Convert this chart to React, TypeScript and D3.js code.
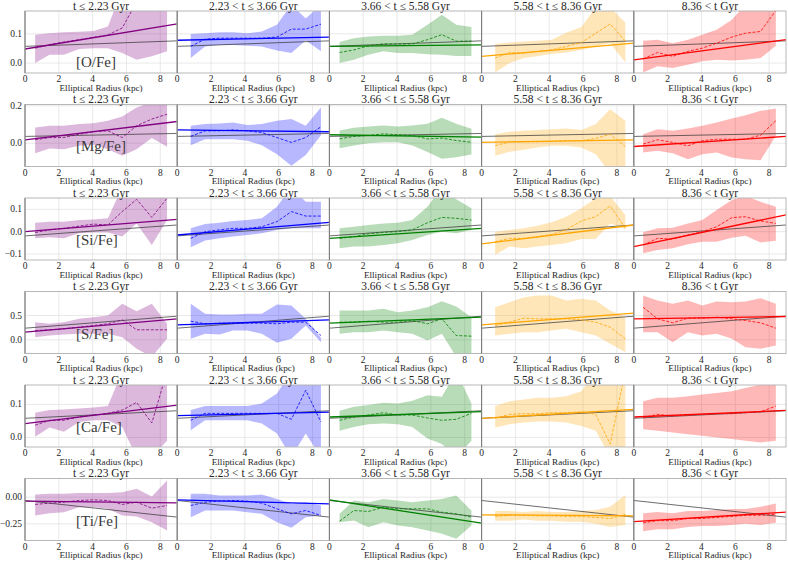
import React from "react";
import { scaleLinear, area, line } from "d3";

// age bins (columns) and elements (rows)
const ageBins = [
  "t ≤ 2.23 Gyr",
  "2.23 < t ≤ 3.66 Gyr",
  "3.66 < t ≤ 5.58 Gyr",
  "5.58 < t ≤ 8.36 Gyr",
  "8.36 < t Gyr",
];
const binColors = ["purple", "blue", "green", "orange", "red"];
const elements = ["[O/Fe]", "[Mg/Fe]", "[Si/Fe]", "[S/Fe]", "[Ca/Fe]", "[Ti/Fe]"];

// radial bin centres per age bin (kpc)
const radii = [
  [0.6, 1.45, 2.3, 3.2, 4.05, 4.9, 5.75, 6.6, 7.5, 8.4],
  [0.8, 1.65, 2.5, 3.3, 4.15, 5.0, 5.9, 6.75, 7.6, 8.5],
  [0.6, 1.45, 2.3, 3.2, 4.05, 4.9, 5.8, 6.65, 7.5, 8.4],
  [0.8, 1.65, 2.5, 3.3, 4.15, 5.0, 5.9, 6.75, 7.6, 8.5],
  [0.55, 1.4, 2.3, 3.2, 4.05, 4.9, 5.8, 6.6, 7.5, 8.4],
];

const xTicks = [0, 2, 4, 6, 8];
const yDomains = [
  [-0.034, 0.178],
  [-0.125, 0.207],
  [-0.127, 0.151],
  [-0.282, 0.994],
  [-0.029, 0.159],
  [-0.406, 0.175],
];
const yTicks = [
  [0, 0.1],
  [0, 0.2],
  [-0.1, 0, 0.1],
  [0, 0.5],
  [0, 0.1],
  [-0.25, 0],
];
const yTickLabels = [
  ["0.0", "0.1"],
  ["0.0", "0.2"],
  ["−0.1", "0.0", "0.1"],
  ["0.0", "0.5"],
  ["0.0", "0.1"],
  ["−0.25", "0.00"],
];

// ---- [O/Fe]
const oHigh = [
  [0.097, 0.102, 0.105, 0.107, 0.11, 0.125, 0.25, 0.25, 0.25, 0.25],
  [0.099, 0.102, 0.105, 0.105, 0.102, 0.108, 0.131, 0.2, 0.152, 0.2],
  [0.072, 0.085, 0.091, 0.093, 0.093, 0.097, 0.131, 0.165, 0.131, 0.123],
  [0.065, 0.07, 0.074, 0.076, 0.08, 0.104, 0.123, 0.19, 0.19, 0.139],
  [0.076, 0.08, 0.068, 0.08, 0.097, 0.114, 0.148, 0.2, 0.22, 0.25],
];
const oLow = [
  [0.0, 0.028, 0.028, 0.048, 0.051, 0.051, 0.034, 0.011, 0.023, 0.04],
  [0.017, 0.057, 0.062, 0.062, 0.059, 0.057, 0.043, 0.034, 0.077, 0.04],
  [0.0, 0.011, 0.028, 0.04, 0.034, 0.034, 0.03, 0.028, 0.024, 0.024],
  [-0.032, 0.0, 0.017, 0.023, 0.032, 0.036, 0.045, 0.057, 0.068, 0.002],
  [-0.032, -0.011, -0.017, -0.006, 0.006, 0.011, 0.009, 0.011, 0.017, 0.059],
];
const oMed = [
  [0.051, 0.063, 0.072, 0.08, 0.088, 0.096, 0.12, 0.21, 0.25, 0.3],
  [0.057, 0.082, 0.085, 0.085, 0.085, 0.085, 0.089, 0.116, 0.116, 0.133],
  [0.036, 0.045, 0.059, 0.066, 0.065, 0.065, 0.08, 0.097, 0.075, 0.075],
  [0.017, 0.036, 0.034, 0.04, 0.045, 0.057, 0.07, 0.102, 0.134, 0.075],
  [0.014, 0.036, 0.023, 0.04, 0.051, 0.068, 0.089, 0.102, 0.108, 0.18],
];
const oFit = [[0.048, 0.134], [0.078, 0.089], [0.057, 0.062], [0.023, 0.068], [0.011, 0.08]];

// ---- [Mg/Fe]
const mgHigh = [
  [0.084, 0.093, 0.093, 0.102, 0.107, 0.12, 0.143, 0.191, 0.22, 0.22],
  [0.093, 0.102, 0.105, 0.111, 0.097, 0.102, 0.12, 0.129, 0.093, 0.191],
  [0.068, 0.082, 0.089, 0.095, 0.089, 0.095, 0.104, 0.136, 0.104, 0.077],
  [0.048, 0.061, 0.066, 0.071, 0.075, 0.079, 0.071, 0.102, 0.182, 0.12],
  [0.048, 0.075, 0.066, 0.079, 0.093, 0.111, 0.132, 0.15, 0.173, 0.186],
];
const mgLow = [
  [-0.054, -0.028, -0.033, -0.014, -0.009, -0.033, -0.068, -0.033, 0.027, -0.019],
  [-0.011, 0.021, 0.021, 0.021, 0.013, -0.011, -0.059, -0.121, -0.064, 0.043],
  [-0.027, -0.012, 0.0, 0.005, 0.005, -0.012, -0.048, -0.084, -0.075, -0.061],
  [-0.068, -0.046, -0.035, -0.023, -0.014, -0.014, -0.023, -0.059, -0.16, -0.16],
  [-0.05, -0.041, -0.054, -0.086, -0.059, -0.05, -0.077, -0.086, -0.091, 0.039],
];
const mgMed = [
  [0.018, 0.03, 0.03, 0.048, 0.061, 0.066, 0.03, 0.093, 0.129, 0.155],
  [0.036, 0.066, 0.066, 0.071, 0.066, 0.057, 0.03, 0.004, 0.03, 0.088],
  [0.023, 0.036, 0.041, 0.05, 0.045, 0.041, 0.023, 0.027, 0.014, 0.005],
  [-0.014, 0.007, 0.007, 0.007, 0.009, 0.013, 0.013, 0.025, 0.048, -0.018],
  [-0.005, 0.018, 0.004, -0.014, 0.013, 0.021, 0.021, 0.021, 0.043, 0.12],
];
const mgFit = [[0.018, 0.116], [0.071, 0.061], [0.045, 0.032], [0.004, 0.018], [-0.018, 0.036]];

// ---- [Si/Fe]
const siHigh = [
  [0.04, 0.045, 0.045, 0.052, 0.055, 0.06, 0.2, 0.2, 0.2, 0.2],
  [0.015, 0.034, 0.04, 0.048, 0.052, 0.06, 0.112, 0.2, 0.134, 0.134],
  [0.015, 0.022, 0.03, 0.037, 0.04, 0.052, 0.112, 0.2, 0.145, 0.105],
  [0.0, 0.008, 0.015, 0.027, 0.042, 0.067, 0.105, 0.15, 0.16, 0.075],
  [-0.003, 0.015, 0.018, 0.037, 0.052, 0.097, 0.142, 0.16, 0.134, 0.112],
];
const siLow = [
  [-0.03, -0.025, -0.03, -0.007, -0.004, -0.004, -0.022, 0.037, -0.06, 0.052],
  [-0.07, -0.04, -0.03, -0.022, -0.015, -0.007, 0.008, 0.015, 0.015, 0.015],
  [-0.074, -0.067, -0.067, -0.06, -0.052, -0.037, -0.015, 0.0, -0.007, 0.008],
  [-0.104, -0.067, -0.074, -0.067, -0.06, -0.052, -0.033, -0.033, 0.037, 0.012],
  [-0.097, -0.082, -0.074, -0.056, -0.045, -0.045, -0.027, -0.018, -0.048, -0.041],
];
const siMed = [
  [-0.004, 0.008, 0.015, 0.025, 0.034, 0.03, 0.09, 0.145, 0.064, 0.15],
  [-0.03, 0.0, 0.008, 0.015, 0.015, 0.022, 0.045, 0.09, 0.07, 0.07],
  [-0.03, -0.022, -0.01, -0.003, 0.0, 0.008, 0.04, 0.064, 0.06, 0.052],
  [-0.045, -0.03, -0.03, -0.022, -0.012, 0.008, 0.048, 0.067, 0.116, 0.015],
  [-0.06, -0.03, -0.033, -0.015, 0.0, 0.022, 0.063, 0.067, 0.048, 0.037],
];
const siFit = [[0.0, 0.055], [-0.015, 0.042], [-0.03, 0.015], [-0.055, 0.03], [-0.067, 0.075]];

// ---- [S/Fe]
const sHigh = [
  [0.363, 0.329, 0.363, 0.432, 0.465, 0.5, 0.74, 0.589, 0.74, 0.329],
  [0.74, 0.535, 0.52, 0.52, 0.535, 0.535, 0.726, 0.706, 0.432, 0.041],
  [0.603, 0.603, 0.603, 0.638, 0.568, 0.603, 0.671, 0.794, 0.685, 0.465],
  [0.671, 0.774, 0.877, 0.912, 0.912, 0.809, 0.844, 0.809, 0.603, 0.465],
  [0.912, 0.809, 0.74, 0.809, 0.706, 0.788, 0.774, 0.788, 0.856, 0.74],
];
const sLow = [
  [0.055, 0.088, 0.109, 0.123, 0.123, 0.123, 0.055, -0.185, -0.35, 0.02],
  [0.02, 0.123, 0.109, 0.191, 0.191, 0.123, -0.062, 0.02, 0.294, -0.049],
  [0.123, 0.157, 0.157, 0.191, 0.157, 0.123, -0.014, 0.123, -0.35, -0.35],
  [0.088, 0.123, 0.157, 0.157, 0.191, 0.226, 0.157, 0.088, -0.082, -0.255],
  [0.157, 0.157, -0.049, 0.157, 0.088, 0.123, 0.02, -0.152, -0.185, -0.117],
];
const sMed = [
  [0.191, 0.206, 0.226, 0.26, 0.294, 0.329, 0.411, 0.206, 0.206, 0.206],
  [0.383, 0.329, 0.342, 0.342, 0.342, 0.342, 0.329, 0.363, 0.363, 0.088],
  [0.363, 0.363, 0.383, 0.363, 0.363, 0.397, 0.329, 0.432, 0.088, 0.075],
  [0.294, 0.363, 0.445, 0.432, 0.432, 0.432, 0.411, 0.363, 0.26, 0.02],
  [0.671, 0.432, 0.35, 0.445, 0.445, 0.465, 0.432, 0.397, 0.35, 0.239],
];
const sFit = [[0.157, 0.432], [0.308, 0.411], [0.342, 0.465], [0.308, 0.548], [0.432, 0.479]];

// ---- [Ca/Fe]
const caHigh = [
  [0.075, 0.083, 0.085, 0.088, 0.091, 0.095, 0.2, 0.2, 0.2, 0.2],
  [0.083, 0.095, 0.095, 0.095, 0.095, 0.103, 0.133, 0.2, 0.2, 0.2],
  [0.081, 0.093, 0.098, 0.105, 0.103, 0.111, 0.128, 0.123, 0.2, 0.103],
  [0.095, 0.11, 0.115, 0.12, 0.12, 0.125, 0.14, 0.2, 0.2, 0.2],
  [0.11, 0.12, 0.12, 0.125, 0.13, 0.135, 0.14, 0.15, 0.16, 0.17],
];
const caLow = [
  [0.002, 0.03, 0.017, 0.047, 0.052, 0.052, 0.032, -0.06, -0.06, -0.01],
  [0.022, 0.052, 0.052, 0.052, 0.052, 0.042, 0.012, -0.06, 0.012, -0.06],
  [0.02, 0.032, 0.04, 0.042, 0.04, 0.032, -0.003, -0.02, -0.06, -0.01],
  [0.03, 0.04, 0.045, 0.048, 0.048, 0.045, 0.035, 0.02, -0.06, -0.06],
  [0.025, 0.02, 0.015, 0.01, 0.005, 0.0, -0.005, -0.01, -0.015, -0.01],
];
const caMed = [
  [0.037, 0.052, 0.052, 0.062, 0.068, 0.073, 0.083, 0.106, 0.044, 0.2],
  [0.052, 0.073, 0.073, 0.073, 0.073, 0.073, 0.073, 0.055, 0.143, 0.047],
  [0.052, 0.062, 0.068, 0.075, 0.068, 0.068, 0.059, 0.052, 0.055, 0.073],
  [0.058, 0.07, 0.072, 0.072, 0.075, 0.075, 0.078, 0.07, -0.02, 0.2],
  [0.06, 0.07, 0.065, 0.068, 0.07, 0.072, 0.072, 0.075, 0.078, 0.095],
];
const caFit = [[0.042, 0.098], [0.066, 0.077], [0.062, 0.078], [0.058, 0.085], [0.062, 0.082]];

// ---- [Ti/Fe]
const tiHigh = [
  [0.025, 0.031, 0.031, 0.038, 0.038, 0.038, 0.047, 0.079, 0.006, 0.157],
  [0.031, 0.031, 0.016, 0.016, 0.016, 0.025, -0.016, -0.062, -0.047, -0.078],
  [-0.156, -0.031, -0.047, -0.016, -0.031, -0.047, -0.031, -0.016, 0.016, -0.125],
  [-0.13, -0.13, -0.14, -0.13, -0.14, -0.14, -0.13, -0.12, -0.09, 0.02],
  [-0.15, -0.14, -0.15, -0.13, -0.13, -0.12, -0.11, -0.11, -0.09, -0.06],
];
const tiLow = [
  [-0.172, -0.15, -0.141, -0.094, -0.094, -0.109, -0.172, -0.181, -0.234, -0.312],
  [-0.187, -0.125, -0.125, -0.125, -0.141, -0.156, -0.234, -0.287, -0.187, -0.172],
  [-0.234, -0.219, -0.281, -0.234, -0.265, -0.281, -0.312, -0.343, -0.39, -0.265],
  [-0.22, -0.22, -0.21, -0.22, -0.22, -0.23, -0.23, -0.25, -0.28, -0.26],
  [-0.32, -0.3, -0.3, -0.28, -0.27, -0.27, -0.26, -0.25, -0.26, -0.24],
];
const tiMed = [
  [-0.068, -0.056, -0.047, -0.031, -0.025, -0.031, -0.068, -0.047, -0.103, -0.078],
  [-0.078, -0.047, -0.037, -0.031, -0.037, -0.056, -0.109, -0.156, -0.125, -0.172],
  [-0.225, -0.125, -0.134, -0.094, -0.109, -0.109, -0.109, -0.141, -0.156, -0.187],
  [-0.18, -0.17, -0.17, -0.175, -0.175, -0.18, -0.18, -0.19, -0.2, -0.16],
  [-0.24, -0.22, -0.22, -0.2, -0.2, -0.19, -0.18, -0.17, -0.17, -0.16],
];
const tiFit = [[-0.037, -0.053], [-0.025, -0.062], [-0.025, -0.244], [-0.165, -0.175], [-0.23, -0.14]];

// all-stars fit per element (black line), value at r=0 and r=9
const allFit = [
  [0.057, 0.076],
  [0.036, 0.052],
  [-0.019, 0.03],
  [0.239, 0.486],
  [0.058, 0.081],
  [-0.031, -0.187],
];

const highs = [oHigh, mgHigh, siHigh, sHigh, caHigh, tiHigh];
const lows = [oLow, mgLow, siLow, sLow, caLow, tiLow];
const meds = [oMed, mgMed, siMed, sMed, caMed, tiMed];
const fits = [oFit, mgFit, siFit, sFit, caFit, tiFit];

const W = 788;
const H = 562;
const left = 25;
const colW = 152.2;
const panelH = 62;
const rowTops = [11, 104.5, 198, 291.5, 385, 478.5];
const labelDrop = [6.5, 15.5, 15, 14.7, 15.3, 15];
const font = "Liberation Serif";
const textColor = "#262626";

const Panel = ({ row, col }: { row: number; col: number }) => {
  const x0 = left + col * colW;
  const top = rowTops[row];
  const x = scaleLinear().domain([0, 9]).range([x0, x0 + colW]);
  const y = scaleLinear().domain(yDomains[row]).range([top + panelH, top]);
  const rs = radii[col];
  const pts = rs.map((r, i) => ({
    r,
    lo: lows[row][col][i],
    hi: highs[row][col][i],
    med: meds[row][col][i],
  }));
  const band = area<any>()
    .x((d) => x(d.r))
    .y0((d) => y(d.lo))
    .y1((d) => y(d.hi));
  const medLine = line<any>()
    .x((d) => x(d.r))
    .y((d) => y(d.med));
  const straight = line<number[]>()
    .x((d) => x(d[0]))
    .y((d) => y(d[1]));
  const fit = fits[row][col];
  const clipId = `clip-${row}-${col}`;
  const color = binColors[col];

  return (
    <g>
      <defs>
        <clipPath id={clipId}>
          <rect x={x0} y={top} width={colW} height={panelH} />
        </clipPath>
      </defs>
      {xTicks.map((t) => (
        <line key={"gx" + t} x1={x(t)} x2={x(t)} y1={top} y2={top + panelH} stroke="#e3e3e3" strokeWidth={0.8} />
      ))}
      {yTicks[row].map((t) => (
        <line key={"gy" + t} x1={x0} x2={x0 + colW} y1={y(t)} y2={y(t)} stroke="#e3e3e3" strokeWidth={0.8} />
      ))}
      <g clipPath={`url(#${clipId})`}>
        <path d={band(pts) || ""} fill={color} fillOpacity={0.28} stroke="none" />
        <path
          d={straight([[0, allFit[row][0]], [9, allFit[row][1]]]) || ""}
          stroke="#333"
          strokeOpacity={0.8}
          strokeWidth={0.9}
          fill="none"
        />
        <path d={medLine(pts) || ""} stroke={color} strokeWidth={0.8} strokeDasharray="3,1.6" fill="none" />
        <path d={straight([[0, fit[0]], [9, fit[1]]]) || ""} stroke={color} strokeWidth={1.3} fill="none" />
      </g>
      <rect x={x0} y={top} width={colW} height={panelH} fill="none" stroke="#b0b0b0" strokeWidth={0.9} />
      <line x1={x0} x2={x0} y1={top} y2={top + panelH} stroke="#707070" strokeWidth={0.9} />
      <g fontFamily={font} fill={textColor}>
        {xTicks.map((t) => (
          <text key={"tx" + t} x={x(t)} y={top + panelH + 9} textAnchor="middle" fontSize={9.5}>
            {t}
          </text>
        ))}
        <text x={x0 + colW / 2} y={top + panelH + 17.5} textAnchor="middle" fontSize={9.2}>
          Elliptical Radius (kpc)
        </text>
        <text x={x0 + colW / 2} y={top - 1.5} textAnchor="middle" fontSize={11.5}>
          {ageBins[col]}
        </text>
        {col === 0 &&
          yTicks[row].map((t, i) => (
            <text key={"ty" + t} x={x0 - 3} y={y(t) + 3} textAnchor="end" fontSize={9.5}>
              {yTickLabels[row][i]}
            </text>
          ))}
        {col === 0 && (
          <text x={x0 + 51} y={top + panelH - labelDrop[row]} fontSize={15} fill="#3a3a3a">
            {elements[row]}
          </text>
        )}
      </g>
    </g>
  );
};

export default function App() {
  return (
    <svg width={W} height={H} style={{ position: "absolute", left: 0, top: 0, background: "#fff" }}>
      {elements.map((_, row) =>
        ageBins.map((__, col) => <Panel key={`${row}-${col}`} row={row} col={col} />)
      )}
    </svg>
  );
}
